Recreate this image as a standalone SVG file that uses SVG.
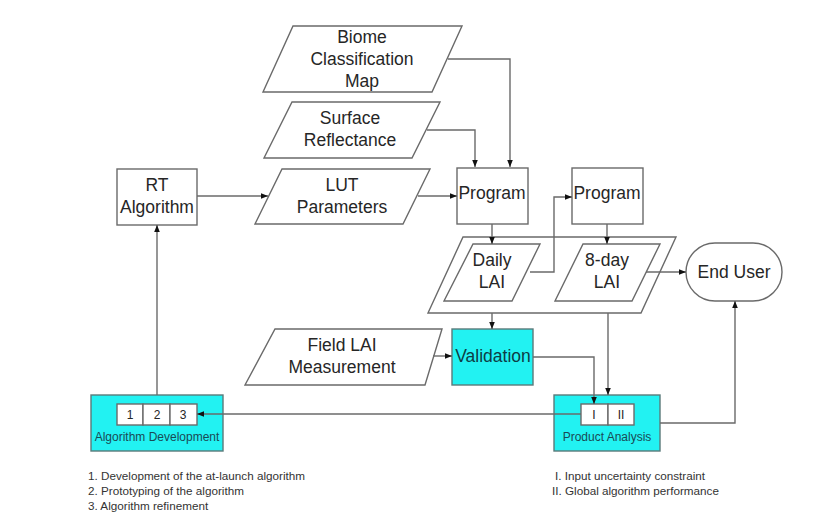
<svg xmlns="http://www.w3.org/2000/svg" width="826" height="513" viewBox="0 0 826 513">
<defs>
<marker id="ah" viewBox="0 0 10 10" refX="10" refY="5" markerWidth="7" markerHeight="7" markerUnits="userSpaceOnUse" orient="auto">
<path d="M0,1 L10,5 L0,9 Z" fill="#111"/>
</marker>
<style>
.s{fill:#fff;stroke:#6a6a6a;stroke-width:1.4}
.c{fill:#22f2f2;stroke:#5a7a7a;stroke-width:1.4}
.t{font-family:"Liberation Sans",Arial,sans-serif;font-size:17.5px;fill:#262626;text-anchor:middle;dominant-baseline:central}
.tv{font-family:"Liberation Sans",Arial,sans-serif;font-size:17.5px;fill:#0d3d45;text-anchor:middle;dominant-baseline:central}
.sm{font-family:"Liberation Sans",Arial,sans-serif;font-size:12px;fill:#1a4a55;text-anchor:middle;dominant-baseline:central}
.cell{font-family:"Liberation Sans",Arial,sans-serif;font-size:12px;fill:#262626;text-anchor:middle;dominant-baseline:central}
.lg{font-family:"Liberation Sans",Arial,sans-serif;font-size:11.7px;fill:#333;dominant-baseline:central}
.l{fill:none;stroke:#6a6a6a;stroke-width:1.4}
.la{fill:none;stroke:#6a6a6a;stroke-width:1.4;marker-end:url(#ah)}
</style>
</defs>
<rect width="826" height="513" fill="#fff"/>

<g id="biome">
<polygon class="s" points="293,26 462,26 432,92 263,92"/>
<text class="t" x="362" y="37">Biome</text>
<text class="t" x="362" y="59">Classification</text>
<text class="t" x="362" y="81">Map</text>
</g>

<g id="surface">
<polygon class="s" points="292,102 440,102 412,158 264,158"/>
<text class="t" x="350" y="118">Surface</text>
<text class="t" x="350" y="140">Reflectance</text>
</g>

<g id="rt">
<rect class="s" x="117" y="169" width="80" height="56"/>
<text class="t" x="157" y="185">RT</text>
<text class="t" x="157" y="207">Algorithm</text>
</g>

<g id="lut">
<polygon class="s" points="282,169 430,169 403,224 255,224"/>
<text class="t" x="342" y="185">LUT</text>
<text class="t" x="342" y="207">Parameters</text>
</g>

<g id="program1">
<rect class="s" x="457" y="168" width="71" height="56"/>
<text class="t" x="492" y="193">Program</text>
</g>

<g id="program2">
<rect class="s" x="572" y="168" width="71" height="56"/>
<text class="t" x="607" y="193">Program</text>
</g>

<g id="lai-group">
<polygon class="s" points="463,237 676,237 641,313 428,313"/>
</g>

<g id="daily">
<polygon class="s" points="473,244 540,244 512,301 444,301"/>
<text class="t" x="492" y="260">Daily</text>
<text class="t" x="492" y="282">LAI</text>
</g>

<g id="eightday">
<polygon class="s" points="583,244 660,244 632,301 555,301"/>
<text class="t" x="607" y="260">8-day</text>
<text class="t" x="607" y="282">LAI</text>
</g>

<g id="enduser">
<rect class="s" x="686" y="243" width="96" height="58" rx="29" ry="29"/>
<text class="t" x="734" y="272">End User</text>
</g>

<g id="field">
<polygon class="s" points="275,329 442,329 425,385 245,385"/>
<text class="t" x="342" y="345">Field LAI</text>
<text class="t" x="342" y="367">Measurement</text>
</g>

<g id="validation">
<rect class="c" x="452" y="329" width="81" height="56"/>
<text class="tv" x="493" y="356">Validation</text>
</g>

<g id="algdev">
<rect class="c" x="91" y="395" width="132" height="56"/>
<rect class="s" x="117" y="404" width="26" height="21"/>
<rect class="s" x="143" y="404" width="27" height="21"/>
<rect class="s" x="170" y="404" width="27" height="21"/>
<text class="cell" x="130" y="415">1</text>
<text class="cell" x="157" y="415">2</text>
<text class="cell" x="183" y="415">3</text>
<text class="sm" x="157" y="437">Algorithm Development</text>
</g>

<g id="prodanalysis">
<rect class="c" x="554" y="395" width="106" height="56"/>
<rect class="s" x="581" y="404" width="27" height="21"/>
<rect class="s" x="608" y="404" width="26" height="21"/>
<text class="cell" x="594" y="415">I</text>
<text class="cell" x="621" y="415">II</text>
<text class="sm" x="607" y="437">Product Analysis</text>
</g>

<g id="legend">
<text class="lg" x="88" y="475">1. Development of the at-launch algorithm</text>
<text class="lg" x="88" y="490">2. Prototyping of the algorithm</text>
<text class="lg" x="88" y="505">3. Algorithm refinement</text>
<text class="lg" x="555" y="475">I. Input uncertainty constraint</text>
<text class="lg" x="552" y="490">II. Global algorithm performance</text>
</g>

<g id="connectors">
<polyline class="la" points="448,59 510,59 510,167"/>
<polyline class="la" points="427,130 475,130 475,167"/>
<line class="la" x1="197" y1="196" x2="268" y2="196"/>
<line class="la" x1="418" y1="196" x2="457" y2="196"/>
<line class="la" x1="492" y1="224" x2="492" y2="244"/>
<line class="la" x1="607" y1="224" x2="607" y2="244"/>
<polyline class="la" points="530,272 554,272 554,197 572,197"/>
<line class="la" x1="646" y1="272" x2="686" y2="272"/>
<line class="la" x1="492" y1="313" x2="492" y2="329"/>
<line class="la" x1="433" y1="356" x2="452" y2="356"/>
<polyline class="la" points="533,357 594,357 594,404"/>
<line class="la" x1="608" y1="313" x2="608" y2="395"/>
<polyline class="la" points="660,423 735,423 735,301"/>
<line class="la" x1="581" y1="414" x2="197" y2="414"/>
<line class="la" x1="157" y1="395" x2="157" y2="225"/>
</g>
</svg>
